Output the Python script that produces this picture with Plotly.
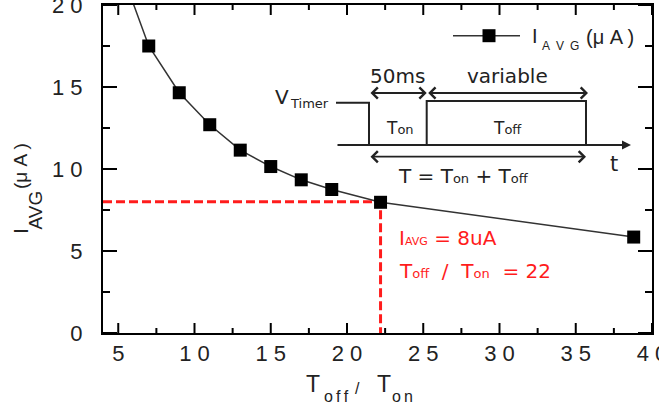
import plotly.graph_objects as go

# ---------------- data ----------------
t_ratio = [5, 7, 9, 11, 13, 15, 17, 19, 22.2, 38.8]          # Toff / Ton
i_avg = [22.6, 17.5, 14.65, 12.7, 11.15, 10.15, 9.34, 8.75, 7.97, 5.85]  # I_AVG (uA)
target_ratio = 22.2
target_iavg = 8.0
x_range = [4, 40]
y_range = [0, 20]
x_major = [5, 10, 15, 20, 25, 30, 35, 40]
y_major = [0, 5, 10, 15, 20]
x_minor = [7.5, 12.5, 17.5, 22.5, 27.5, 32.5, 37.5]
y_minor = [2.5, 7.5, 12.5, 17.5]
x_ticktext = ["5", "1 0", "1 5", "2 0", "2 5", "3 0", "3 5", "4 0"]
y_ticktext = ["0", "5", "1 0", "1 5", "2 0"]

RED = "#ff1c1c"
INK = "#222222"
AR = "Liberation Sans, Arial, sans-serif"
DV = "DejaVu Sans, Verdana, sans-serif"

# plot-area pixel frame (for placing decorations in paper coords)
L, R, T, B = 103, 652, 5, 333
W, H = R - L, B - T


def PX(px):
    return (px - L) / W


def PY(py):
    return (B - py) / H


# tick lengths in pixels, converted to axis units
XMAJ, XMIN, YMAJ, YMIN = 10, 5, 14, 7
ux = (x_range[1] - x_range[0]) / W   # x units per pixel
uy = (y_range[1] - y_range[0]) / H   # y units per pixel
tx, ty = [], []
for vals, ln in ((x_major, XMAJ), (x_minor, XMIN)):
    for v in vals:
        tx += [v, v, None, v, v, None]
        ty += [y_range[0], y_range[0] + ln * uy, None,
               y_range[1], y_range[1] - ln * uy, None]
for vals, ln in ((y_major, YMAJ), (y_minor, YMIN)):
    for v in vals:
        ty += [v, v, None, v, v, None]
        tx += [x_range[0], x_range[0] + ln * ux, None,
               x_range[1], x_range[1] - ln * ux, None]

fig = go.Figure()
fig.add_trace(go.Scatter(
    x=tx, y=ty, mode="lines", line=dict(color="black", width=2),
    hoverinfo="skip", showlegend=False, cliponaxis=False))
fig.add_trace(go.Scatter(
    x=[x_range[0], target_ratio, target_ratio],
    y=[target_iavg, target_iavg, y_range[0]],
    mode="lines", line=dict(color=RED, width=3, dash="9px,4px"),
    hoverinfo="skip", showlegend=False))
fig.add_trace(go.Scatter(
    x=t_ratio, y=i_avg, mode="lines+markers",
    line=dict(color="#333333", width=1.5),
    marker=dict(symbol="square", size=13, color="black"),
    name="I_AVG (uA)", showlegend=False))

ann = []


def txt(text, px, py, size, family=DV, color=INK, xanchor="center",
        yanchor="middle", angle=0):
    ann.append(dict(text=text, x=PX(px), y=PY(py), xref="paper", yref="paper",
                    showarrow=False, xanchor=xanchor, yanchor=yanchor,
                    textangle=angle, font=dict(size=size, family=family, color=color)))


def arrow(x0, y0, x1, y1, head=4, both=True, size=1.2, width=1.8):
    ann.append(dict(text="", x=PX(x1), y=PY(y1), xref="paper", yref="paper",
                    ax=x0 - x1, ay=y0 - y1, axref="pixel", ayref="pixel",
                    showarrow=True, arrowhead=head, startarrowhead=head,
                    arrowside="end+start" if both else "end",
                    arrowsize=size, startarrowsize=size,
                    arrowwidth=width, arrowcolor=INK))


def sp(t, s):
    return '<span style="font-size:%dpx">%s</span>' % (s, t)


# inset timing diagram
txt("V", 282, 97, 20)
txt("Timer", 309, 103, 13)
txt("50ms", 397.5, 76, 20)
txt("variable", 507.5, 76, 20)
txt("T" + sp("on", 13), 400, 128, 17)
txt("T" + sp("off", 13), 507, 128, 17)
txt("T = T" + sp("on", 13) + " + T" + sp("off", 13), 463.5, 176, 20)
txt("t", 613.5, 163.5, 21)
arrow(369, 93, 426.7, 93)
arrow(426.7, 93, 588, 93)
arrow(369, 156.7, 586, 156.7)
arrow(336, 145, 631, 145, head=2, both=False, size=0.9, width=2)

NOFILL = "rgba(0,0,0,0)"
shapes = [
    dict(type="path", xref="paper", yref="paper", fillcolor=NOFILL,
         path="M%f,%f L%f,%f L%f,%f" % (PX(336), PY(102.7), PX(369), PY(102.7), PX(369), PY(145)),
         line=dict(color=INK, width=2)),
    dict(type="path", xref="paper", yref="paper", fillcolor=NOFILL,
         path="M%f,%f L%f,%f L%f,%f L%f,%f" % (PX(426.7), PY(145), PX(426.7), PY(101),
                                                PX(586), PY(101), PX(586), PY(145)),
         line=dict(color=INK, width=2)),
    # legend sample
    dict(type="line", xref="paper", yref="paper", x0=PX(453), x1=PX(520),
         y0=PY(35.7), y1=PY(35.7), line=dict(color="#333333", width=1.5)),
    dict(type="rect", xref="paper", yref="paper", x0=PX(482.5), x1=PX(495.5),
         y0=PY(42.2), y1=PY(29.2), fillcolor="black", opacity=1, line=dict(width=0)),
]

# legend text
txt("I", 534.5, 35.5, 20, family=AR)
txt("A\u2002V\u2002G", 560, 46.5, 12, family=AR)
txt("(\u03bc A )", 610, 37, 20, family=AR)

# red annotation
txt("I" + sp("AVG", 11) + " = 8uA", 397, 238, 20, color=RED, xanchor="left")
txt("T" + sp("off", 13) + "\u00a0\u00a0/\u00a0\u00a0T" + sp("on", 13) + "\u00a0\u00a0= 22",
    397, 271, 20, color=RED, xanchor="left")

# x axis title
txt("T", 312.5, 383.5, 23, family=AR)
txt("o\u2009f\u2009f", 336, 396, 16, family=AR)
txt("/", 357.5, 388, 16, family=AR)
txt("T", 383.5, 383.5, 23, family=AR)
txt("o\u2009n", 402.5, 396, 16, family=AR)

# y axis title
txt("I", 20.5, 231.5, 21, family=AR, angle=-90)
txt("AVG", 34.5, 210, 19, family=AR, angle=-90)
txt("(\u03bc A )", 20, 166, 19, family=AR, angle=-90)

fig.update_layout(
    width=659, height=411,
    margin=dict(l=L, r=659 - R, t=T, b=411 - B),
    paper_bgcolor="white", plot_bgcolor="white",
    showlegend=False,
    font=dict(family=AR, color=INK),
    annotations=ann, shapes=shapes,
)
fig.update_xaxes(
    range=x_range, tickmode="array", tickvals=x_major, ticktext=x_ticktext,
    ticks="", showline=True, linecolor="black", linewidth=2, mirror=True,
    showgrid=False, zeroline=False, automargin=False,
    ticklabeloverflow="allow",
    tickfont=dict(size=22, family=AR, color=INK),
)
fig.update_yaxes(
    range=y_range, tickmode="array", tickvals=y_major, ticktext=y_ticktext,
    ticks="", showline=True, linecolor="black", linewidth=2, mirror=True,
    showgrid=False, zeroline=False, automargin=False,
    ticklabeloverflow="allow",
    tickfont=dict(size=22, family=AR, color=INK),
    ticklabelstandoff=14,
)

fig.write_html("out.html")
